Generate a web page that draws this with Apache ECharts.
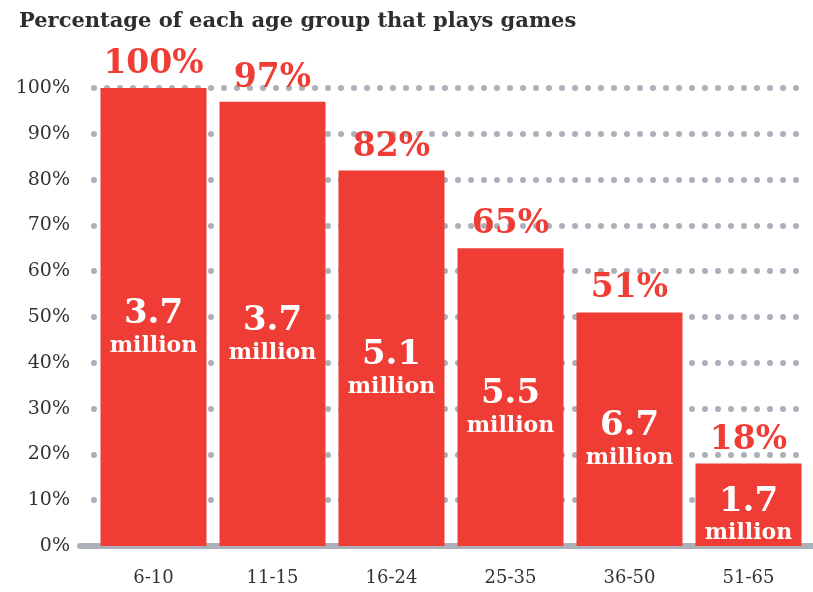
<!DOCTYPE html>
<html><head><meta charset="utf-8">
<script src="https://cdn.jsdelivr.net/npm/echarts@6/dist/echarts.min.js"></script>
<style>html,body{margin:0;padding:0;background:#fff}#c{width:813px;height:592px}</style>
</head><body><div id="c"></div>
<script>
const chartTitle = 'Percentage of each age group that plays games';
const ageGroups = ['6-10', '11-15', '16-24', '25-35', '36-50', '51-65'];
const percentPlaying = [100, 97, 82, 65, 51, 18];
const playersMillions = ['3.7', '3.7', '5.1', '5.5', '6.7', '1.7'];
const yMin = 0, yMax = 100, yInterval = 10;

const RED = '#ef3d35';
const SERIF = '"DejaVu Serif", Georgia, serif';
const chart = echarts.init(document.getElementById('c'), null, {renderer: 'canvas'});
chart.setOption({
  animation: false,
  backgroundColor: '#fff',
  title: {
    text: chartTitle, left: 14, top: 6,
    textStyle: {fontFamily: SERIF, fontSize: 21, fontWeight: 'bold', color: '#2e2e2e'}
  },
  grid: [
    {left: 94, right: 5, top: 88, bottom: 46},
    {left: 80, right: 0, top: 88, bottom: 46}
  ],
  xAxis: [
    {
      type: 'category', data: ageGroups, gridIndex: 0,
      axisLine: {show: false}, axisTick: {show: false},
      axisLabel: {fontFamily: SERIF, fontSize: 18, color: '#333', margin: 23}
    },
    {
      type: 'value', gridIndex: 1, min: 0, max: 1,
      axisLine: {show: true, lineStyle: {color: '#acb1b9', width: 6, cap: 'round'}},
      axisTick: {show: false}, axisLabel: {show: false}, splitLine: {show: false}
    }
  ],
  yAxis: [
    {
      type: 'value', gridIndex: 0, min: yMin, max: yMax, interval: yInterval,
      axisLine: {show: false}, axisTick: {show: false},
      axisLabel: {formatter: '{value}%', fontFamily: SERIF, fontSize: 19, color: '#333', margin: 24},
      splitLine: {show: true, lineStyle: {color: '#acb0ba', width: 6, type: [0, 13], cap: 'round'}}
    },
    {type: 'value', gridIndex: 1, min: 0, max: 1, show: false}
  ],
  series: [
    {
      type: 'bar', data: percentPlaying, barWidth: 106, barGap: '-100%',
      itemStyle: {color: RED},
      label: {
        show: true, position: 'top', distance: 7,
        formatter: '{c}%', fontFamily: SERIF, fontSize: 33, fontWeight: 'bold', color: RED
      },
      z: 2
    },
    {
      type: 'bar', data: percentPlaying,
      barWidth: 106, barGap: '-100%',
      itemStyle: {color: 'transparent'},
      label: {
        show: true, position: 'inside', offset: [0, 11],
        formatter: p => '{a|' + playersMillions[p.dataIndex] + '}\n{b|million}',
        rich: {
          a: {fontFamily: SERIF, fontSize: 34, fontWeight: 'bold', color: '#fff', lineHeight: 36, align: 'center'},
          b: {fontFamily: SERIF, fontSize: 22, fontWeight: 'bold', color: '#fff', lineHeight: 28, align: 'center'}
        }
      },
      z: 3
    }
  ]
});
</script></body></html>
